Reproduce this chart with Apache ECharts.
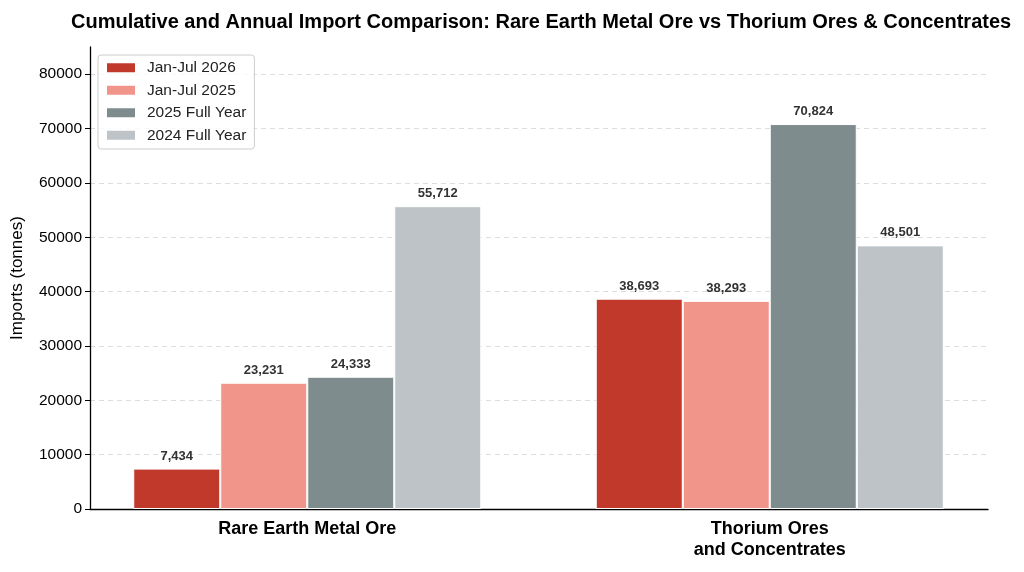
<!DOCTYPE html>
<html>
<head>
<meta charset="utf-8">
<script src="https://cdn.jsdelivr.net/npm/echarts@6/dist/echarts.min.js"></script>
<style>
html,body{margin:0;padding:0;background:#fff;}
#main{width:1024px;height:572px;}
</style>
</head>
<body>
<div id="main"></div>
<script>
var categories = ['Rare Earth Metal Ore', 'Thorium Ores\nand Concentrates'];
var seriesNames = ['Jan-Jul 2026', 'Jan-Jul 2025', '2025 Full Year', '2024 Full Year'];
var janJul2026 = [7434, 38693];
var janJul2025 = [23231, 38293];
var fullYear2025 = [24333, 70824];
var fullYear2024 = [55712, 48501];
var yTicks = [0, 10000, 20000, 30000, 40000, 50000, 60000, 70000, 80000];
var colors = ['#c0392b', '#f1948a', '#7f8c8d', '#bdc3c7'];

var seriesData = [janJul2026, janJul2025, fullYear2025, fullYear2024];

var chart = echarts.init(document.getElementById('main'));
var fontFam = 'Liberation Sans, Arial, sans-serif';

var series = seriesData.map(function (d, i) {
    return {
        name: seriesNames[i],
        type: 'bar',
        xAxisIndex: 0,
        yAxisIndex: 0,
        data: d,
        barWidth: 87,
        barGap: '0%',
        itemStyle: { color: colors[i], borderColor: '#fff', borderWidth: 1 },
        label: {
            show: true,
            position: 'top',
            distance: 6,
            fontFamily: fontFam,
            fontWeight: 'bold',
            fontSize: 13,
            color: '#333',
            formatter: function (p) { return p.value.toLocaleString('en-US'); }
        }
    };
});

chart.setOption({
    animation: false,
    textStyle: { fontFamily: fontFam },
    title: {
        text: 'Cumulative and Annual Import Comparison: Rare Earth Metal Ore vs Thorium Ores & Concentrates',
        left: 66,
        top: 7,
        textStyle: { fontSize: 20, fontWeight: 'bold', color: '#000', fontFamily: fontFam }
    },
    legend: {
        orient: 'vertical',
        left: 98,
        top: 55,
        icon: 'rect',
        itemWidth: 30,
        itemHeight: 11,
        itemGap: 5,
        padding: [4, 8, 5, 7],
        borderColor: '#ccc',
        borderWidth: 1,
        borderRadius: 3,
        backgroundColor: 'rgba(255,255,255,0.8)',
        textStyle: { fontSize: 15.5, color: '#222', fontFamily: fontFam, lineHeight: 17.5, padding: [0, 0, 0, 6] },
        data: seriesNames
    },
    grid: [
        { left: 76, right: 23, top: 47, bottom: 63 },
        { left: 90, right: 36, top: 47, bottom: 63 }
    ],
    xAxis: [
        {
            type: 'category',
            gridIndex: 0,
            data: categories,
            axisLine: { show: false },
            axisTick: { alignWithLabel: true, length: 5, lineStyle: { color: '#000' } },
            axisLabel: { fontSize: 18, fontWeight: 'bold', color: '#000', margin: 10, lineHeight: 21, fontFamily: fontFam }
        },
        {
            type: 'category',
            gridIndex: 1,
            data: categories,
            axisLine: { lineStyle: { color: '#000', width: 1.3 } },
            axisTick: { show: false },
            axisLabel: { show: false }
        }
    ],
    yAxis: [
        {
            type: 'value',
            gridIndex: 0,
            min: 0,
            max: 85000,
            show: false,
            splitLine: { show: false }
        },
        {
            type: 'value',
            gridIndex: 1,
            min: 0,
            max: 85000,
            interval: 10000,
            name: 'Imports (tonnes)',
            nameLocation: 'middle',
            nameGap: 64,
            nameTextStyle: { fontSize: 17, color: '#000', fontFamily: fontFam },
            axisLine: { show: true, lineStyle: { color: '#000', width: 1.3 } },
            axisTick: { show: true, length: 5, customValues: yTicks, lineStyle: { color: '#000' } },
            axisLabel: {
                fontSize: 15.5, color: '#000', fontFamily: fontFam,
                customValues: yTicks,
                formatter: function (v) { return String(v); }
            },
            splitLine: { show: true, lineStyle: { color: '#ddd', type: [5, 4] } }
        }
    ],
    series: series
});
</script>
</body>
</html>
